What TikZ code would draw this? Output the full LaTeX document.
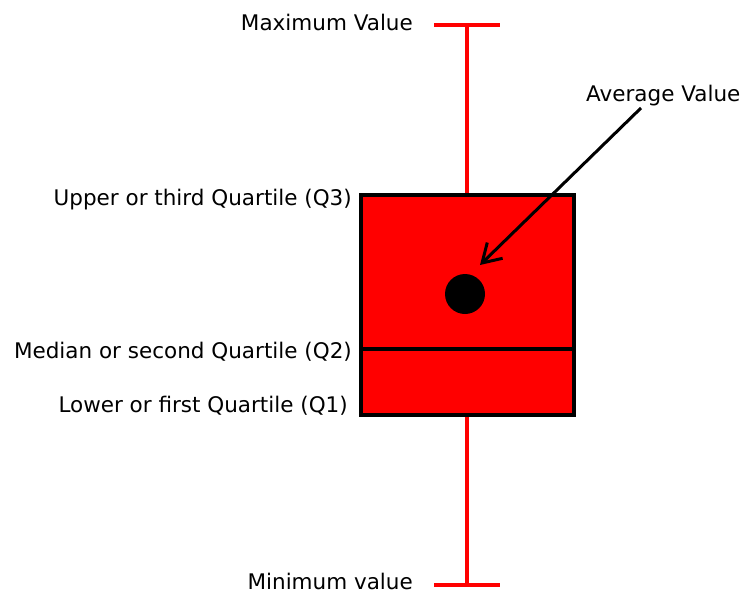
\documentclass[tikz,border=0pt]{standalone}
\usepackage{fontspec}
\setmainfont{DejaVu Sans}
\usetikzlibrary{arrows.meta}
\tikzset{
  lbl/.style={inner sep=0pt, font=\fontsize{21.5}{24}\selectfont},
  whisker/.style={draw=red, line width=3.5pt},
  boxline/.style={draw=black, line width=3.5pt},
}
\begin{document}
\begin{tikzpicture}[x=1pt,y=-1pt]
\useasboundingbox (0,0) rectangle (747,594);
% coordinates
\coordinate (capTL) at (434,25);
\coordinate (capTR) at (500,25);
\coordinate (topW) at (467,25);
\coordinate (capBL) at (434,585);
\coordinate (capBR) at (500,585);
\coordinate (botW) at (467,585);
\coordinate (boxTop) at (467,195);
\coordinate (boxBot) at (467,415);
\coordinate (medL) at (361,349);
\coordinate (medR) at (574,349);
\coordinate (arrS) at (641,108);
% whiskers
\draw[whisker] (capTL) -- (capTR);
\draw[whisker] (topW) -- (boxTop);
\draw[whisker] (capBL) -- (capBR);
\draw[whisker] (botW) -- (boxBot);
% box
\filldraw[boxline, fill=red] (361,195) rectangle (574,415);
\draw[boxline] (medL) -- (medR);
% average dot
\node[circle, fill=black, minimum size=40pt, inner sep=0pt] (avg) at (465,294) {};
\coordinate (arrE) at (480,265);
\draw[line width=3pt, -{Straight Barb[length=18pt,width=22pt,line width=3pt]}] (arrS) -- (arrE);
% labels
\node[lbl, anchor=base east] (max) at (413,31) {Maximum Value};
\node[lbl, anchor=base east] (min) at (413,589) {Minimum value};
\node[lbl, anchor=base west] (avgl) at (586,102) {Average Value};
\node[lbl, anchor=base east] (q3) at (352,205) {Upper or third Quartile (Q3)};
\node[lbl, anchor=base east] (q2) at (352,358) {Median or second Quartile (Q2)};
\node[lbl, anchor=base east] (q1) at (348,412) {Lower or first Quartile (Q1)};
\end{tikzpicture}
\end{document}
